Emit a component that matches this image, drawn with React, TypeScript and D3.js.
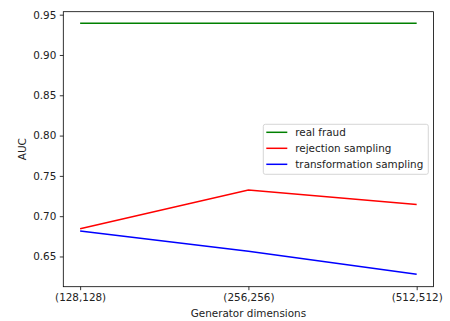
import React, { useEffect, useRef } from "react";
import * as d3 from "d3";

const categories = ["(128,128)", "(256,256)", "(512,512)"];
const realFraud = [0.9395, 0.9395, 0.9395];
const rejectionSampling = [0.6845, 0.7325, 0.7145];
const transformationSampling = [0.6815, 0.6565, 0.628];
const yTicks = [0.65, 0.7, 0.75, 0.8, 0.85, 0.9, 0.95];

const series = [
  { name: "real fraud", values: realFraud, color: "#008000" },
  { name: "rejection sampling", values: rejectionSampling, color: "#ff0000" },
  { name: "transformation sampling", values: transformationSampling, color: "#0000ff" },
];

const App: React.FC = () => {
  const svgRef = useRef<SVGSVGElement>(null);

  const width = 450;
  const height = 321;
  const margin = { top: 11.7, right: 16.5, bottom: 34.3, left: 63.3 };
  const graphWidth = width - margin.left - margin.right;
  const graphHeight = height - margin.top - margin.bottom;

  useEffect(() => {
    if (svgRef.current === null) return;
    const svg = d3.select(svgRef.current);
    svg.selectAll("*").remove();

    const font = "DejaVu Sans, sans-serif";
    const fontSize = "10.4px";

    // scales (matplotlib-like 5% margin on each side of the data span)
    const inset = (graphWidth * 0.05) / 1.1;
    const x = d3
      .scalePoint<string>()
      .domain(categories)
      .range([inset, graphWidth - inset])
      .padding(0);

    const y = d3.scaleLinear().domain([0.6125, 0.9537]).range([graphHeight, 0]);

    const g = svg
      .append("g")
      .attr("transform", `translate(${margin.left}, ${margin.top})`);

    // lines
    const line = d3
      .line<number>()
      .x((_, i) => x(categories[i]) as number)
      .y(d => y(d));

    series.forEach(s => {
      g.append("path")
        .datum(s.values)
        .attr("fill", "none")
        .attr("stroke", s.color)
        .attr("stroke-width", 1.5)
        .attr("d", line);
    });

    // axes
    const xAxis = d3.axisBottom(x).tickSize(3.5).tickPadding(3.5);
    const yAxis = d3
      .axisLeft(y)
      .tickValues(yTicks)
      .tickSize(3.5)
      .tickPadding(3.5)
      .tickFormat(d3.format(".2f"));

    const xg = g
      .append("g")
      .attr("transform", `translate(0, ${graphHeight})`)
      .call(xAxis);
    const yg = g.append("g").call(yAxis);

    [xg, yg].forEach(a => {
      a.select(".domain").remove();
      a.selectAll(".tick line").attr("stroke", "#000").attr("stroke-width", 0.8);
      a.selectAll(".tick text")
        .attr("fill", "#222")
        .style("font-family", font)
        .style("font-size", fontSize);
    });

    // frame
    g.append("rect")
      .attr("width", graphWidth)
      .attr("height", graphHeight)
      .attr("fill", "none")
      .attr("stroke", "#000")
      .attr("stroke-width", 0.8);

    // axis labels
    svg
      .append("text")
      .attr("x", margin.left + graphWidth / 2)
      .attr("y", 317)
      .attr("text-anchor", "middle")
      .attr("fill", "#222")
      .style("font-family", font)
      .style("font-size", fontSize)
      .text("Generator dimensions");

    svg
      .append("text")
      .attr("transform", `translate(25.5, ${margin.top + graphHeight / 2}) rotate(-90)`)
      .attr("text-anchor", "middle")
      .attr("fill", "#222")
      .style("font-family", font)
      .style("font-size", fontSize)
      .text("AUC");

    // legend
    const legend = svg.append("g").attr("transform", "translate(263.3, 124.3)");
    legend
      .append("rect")
      .attr("width", 165)
      .attr("height", 50)
      .attr("rx", 2)
      .attr("fill", "#fff")
      .attr("fill-opacity", 0.8)
      .attr("stroke", "#cccccc")
      .attr("stroke-width", 0.8);

    series.forEach((s, i) => {
      const row = legend.append("g").attr("transform", `translate(0, ${8 + i * 16})`);
      row
        .append("line")
        .attr("x1", 3)
        .attr("x2", 24)
        .attr("stroke", s.color)
        .attr("stroke-width", 1.5);
      row
        .append("text")
        .attr("x", 32)
        .attr("dy", "0.35em")
        .attr("fill", "#222")
        .style("font-family", font)
        .style("font-size", fontSize)
        .text(s.name);
    });
  }, []);

  return (
    <svg
      ref={svgRef}
      width={width}
      height={height}
      style={{ position: "fixed", left: 0, top: 0, background: "#fff" }}
    />
  );
};

export default App;
